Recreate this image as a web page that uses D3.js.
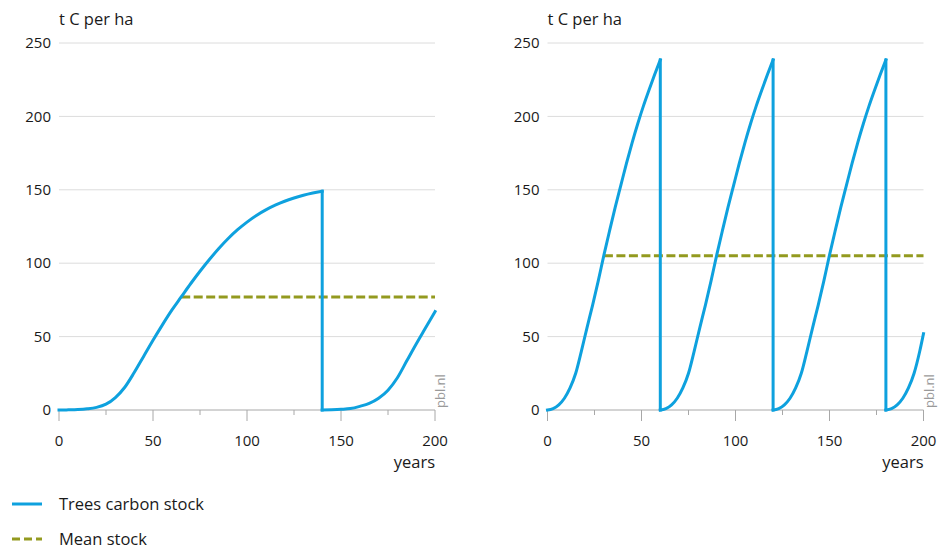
<!DOCTYPE html>
<html>
<head>
<meta charset="utf-8">
<script src="https://cdn.jsdelivr.net/npm/d3@7"></script>
<style>
  body { margin: 0; background: #fff; }
  svg { display: block; font-family: "Open Sans", "Noto Sans", sans-serif; }
</style>
</head>
<body>
<svg id="chart" width="946" height="549"></svg>
<script>
// ---------- data ----------
const yUnit = "t C per ha";
const xUnit = "years";
const xTicks = [0, 50, 100, 150, 200];
const xMinorTicks = [25, 75, 125, 175];
const yTicks = [0, 50, 100, 150, 200, 250];

// Left panel: rotation 140 years
const leftYears = [0, 5, 10, 15, 20, 25, 30, 35, 40, 45, 50, 55, 60, 65, 70, 75, 80, 85, 90, 95, 100, 105, 110, 115, 120, 125, 130, 135, 140,
                   140, 145, 150, 155, 160, 165, 170, 175, 180, 185, 190, 195, 200];
const leftStock = [0, 0.1, 0.3, 0.8, 1.8, 4, 8.5, 15.5, 25.5, 36.5, 47.5, 58, 68, 77, 86, 94.5, 102.5, 110, 116.8, 122.8, 128, 132.5, 136.3, 139.5, 142.2, 144.4, 146.3, 147.8, 149,
                   0, 0.2, 0.5, 1, 2.5, 4.5, 8, 13.5, 22, 33.5, 45, 56, 67];
const leftMean = 77;
const leftMeanStart = 65;

// Right panel: rotation 60 years
const rightYears = [0, 3, 6, 9, 12, 15, 18, 21, 24, 27, 30, 33, 36, 39, 42, 45, 48, 51, 54, 57, 60,
                    60, 63, 66, 69, 72, 75, 78, 81, 84, 87, 90, 93, 96, 99, 102, 105, 108, 111, 114, 117, 120,
                    120, 123, 126, 129, 132, 135, 138, 141, 144, 147, 150, 153, 156, 159, 162, 165, 168, 171, 174, 177, 180,
                    180, 183, 186, 189, 192, 195, 198, 200];
const rightStock = [0, 1, 3.5, 8, 15, 25, 40, 56, 71.5, 88, 105.5, 122, 138, 153, 168, 182, 195, 207, 218, 228.5, 238.5,
                    0, 1, 3.5, 8, 15, 25, 40, 56, 71.5, 88, 105.5, 122, 138, 153, 168, 182, 195, 207, 218, 228.5, 238.5,
                    0, 1, 3.5, 8, 15, 25, 40, 56, 71.5, 88, 105.5, 122, 138, 153, 168, 182, 195, 207, 218, 228.5, 238.5,
                    0, 1, 3.5, 8, 15, 25, 40, 52];
const rightMean = 105;
const rightMeanStart = 30;

const legendLabels = ["Trees carbon stock", "Mean stock"];
const source = "pbl.nl";

// ---------- styling ----------
const blue = "#0ea1de";
const olive = "#939a1f";
const gridColor = "#dcdcdc";
const axisColor = "#a8a8a8";
const textColor = "#1a1a1a";

const svg = d3.select("#chart");

function panel(x0, years, stock, mean, meanStart) {
  const x = d3.scaleLinear().domain([0, 200]).range([x0, x0 + 376]);
  const y = d3.scaleLinear().domain([0, 250]).range([410, 43]);
  const g = svg.append("g");

  g.selectAll("line.grid").data(yTicks.filter(d => d > 0)).join("line")
    .attr("x1", x(0)).attr("x2", x(200))
    .attr("y1", d => y(d)).attr("y2", d => y(d))
    .attr("stroke", gridColor).attr("stroke-width", 1);

  g.selectAll("text.ylab").data(yTicks).join("text")
    .attr("x", x(0) - 8).attr("y", d => y(d)).attr("dy", "0.35em")
    .attr("text-anchor", "end").attr("font-size", 15).attr("fill", textColor)
    .text(d => d);

  g.append("text").attr("x", x(0)).attr("y", 25)
    .attr("font-size", 16.5).attr("fill", textColor).text(yUnit);

  g.append("line").attr("x1", x(0)).attr("x2", x(200))
    .attr("y1", y(0)).attr("y2", y(0)).attr("stroke", axisColor).attr("stroke-width", 1);
  g.selectAll("line.major").data(xTicks).join("line")
    .attr("x1", d => x(d)).attr("x2", d => x(d))
    .attr("y1", y(0)).attr("y2", y(0) + 11)
    .attr("stroke", axisColor).attr("stroke-width", 1);
  g.selectAll("line.minor").data(xMinorTicks).join("line")
    .attr("x1", d => x(d)).attr("x2", d => x(d))
    .attr("y1", y(0)).attr("y2", y(0) + 5)
    .attr("stroke", axisColor).attr("stroke-width", 1);
  g.selectAll("text.xlab").data(xTicks).join("text")
    .attr("x", d => x(d)).attr("y", 441).attr("dy", "0.35em")
    .attr("text-anchor", "middle").attr("font-size", 15).attr("fill", textColor)
    .text(d => d);
  g.append("text").attr("x", x(200)).attr("y", 462).attr("dy", "0.35em")
    .attr("text-anchor", "end").attr("font-size", 16.5).attr("fill", textColor).text(xUnit);

  g.append("line").attr("x1", x(meanStart)).attr("x2", x(200))
    .attr("y1", y(mean)).attr("y2", y(mean))
    .attr("stroke", olive).attr("stroke-width", 3).attr("stroke-dasharray", "9,3.5");

  const pts = years.map((d, i) => [d, stock[i]]);
  const smooth = d3.line().x(d => x(d[0])).y(d => y(d[1])).curve(d3.curveMonotoneX);
  const straight = d3.line().x(d => x(d[0])).y(d => y(d[1]));
  const segs = [];
  let cur = [pts[0]];
  for (let i = 1; i < pts.length; i++) {
    if (pts[i][0] === pts[i - 1][0]) {
      segs.push({ s: true, p: cur });
      segs.push({ s: false, p: [pts[i - 1], pts[i]] });
      cur = [pts[i]];
    } else cur.push(pts[i]);
  }
  segs.push({ s: true, p: cur });
  segs.forEach(seg => {
    g.append("path").attr("d", seg.s ? smooth(seg.p) : straight(seg.p)).attr("fill", "none")
      .attr("stroke", blue).attr("stroke-width", 3).attr("stroke-linecap", "square");
  });

  g.append("text").attr("transform", `translate(${x(200) + 10},408) rotate(-90)`)
    .attr("font-size", 13).attr("fill", "#999").text(source);
}

panel(59, leftYears, leftStock, leftMean, leftMeanStart);
panel(547.5, rightYears, rightStock, rightMean, rightMeanStart);

const leg = svg.append("g");
leg.append("line").attr("x1", 12).attr("x2", 42).attr("y1", 504).attr("y2", 504)
  .attr("stroke", blue).attr("stroke-width", 3);
leg.append("line").attr("x1", 12).attr("x2", 42).attr("y1", 539).attr("y2", 539)
  .attr("stroke", olive).attr("stroke-width", 3).attr("stroke-dasharray", "8,4");
leg.selectAll("text").data(legendLabels).join("text")
  .attr("x", 59).attr("y", (d, i) => 504 + i * 35).attr("dy", "0.35em")
  .attr("font-size", 16.5).attr("fill", textColor).text(d => d);
</script>
</body>
</html>
